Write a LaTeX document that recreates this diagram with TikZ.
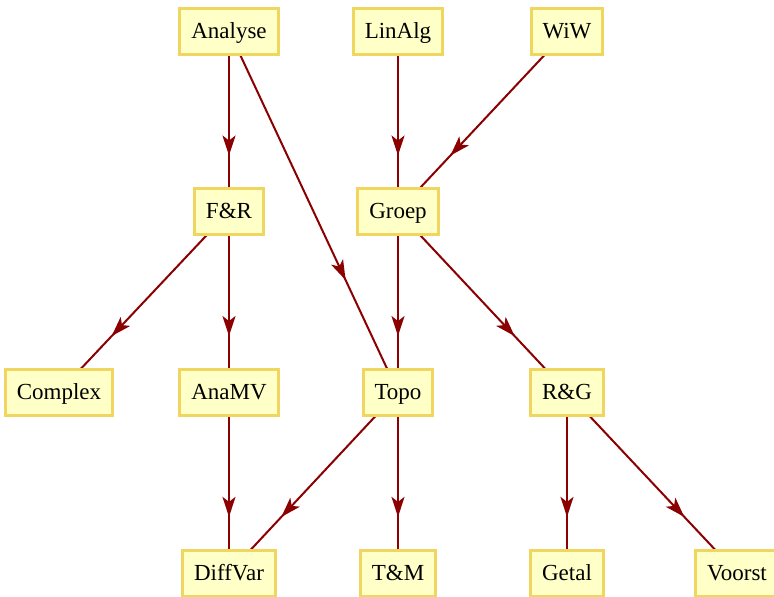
\documentclass[tikz,border=0pt]{standalone}
\usepackage{fontspec}
\setmainfont{Liberation Serif}
\usetikzlibrary{arrows.meta,decorations.markings,backgrounds}
\definecolor{edgecol}{HTML}{8B0000}
\definecolor{boxfill}{HTML}{FFFFC8}
\definecolor{boxdraw}{HTML}{F0D660}
\begin{document}
\begin{tikzpicture}[x=1pt,y=-1pt,
  vbox/.style={draw=boxdraw, fill=boxfill, line width=3pt, minimum height=46pt, inner xsep=11.5pt, text height=17pt, text depth=3pt, font=\fontsize{23}{27}\selectfont, text=black},
  edge/.style={color=edgecol, line width=2pt, postaction={decorate},
    decoration={markings, mark=at position 0.69 with {\arrow{Stealth[length=20pt,width=13pt,inset=5pt]}}}}]
\useasboundingbox (0,0) rectangle (774,597);
\node[vbox] (analyse) at (229,31) {Analyse};
\node[vbox] (linalg) at (398,31) {LinAlg};
\node[vbox] (wiw) at (567,31) {WiW};
\node[vbox] (fr) at (229,211.5) {F\&R};
\node[vbox] (groep) at (398,211.5) {Groep};
\node[vbox] (complex) at (59,392) {Complex};
\node[vbox] (anamv) at (229,392) {AnaMV};
\node[vbox] (topo) at (398,392) {Topo};
\node[vbox] (rg) at (567,392) {R\&G};
\node[vbox] (diffvar) at (229,573) {DiffVar};
\node[vbox] (tm) at (398,573) {T\&M};
\node[vbox] (getal) at (567,573) {Getal};
\node[vbox] (voorst) at (737,573) {Voorst};
\begin{scope}[on background layer]
\draw[edge] (analyse.center) -- (fr.center);
\draw[edge] (analyse.center) -- (topo.center);
\draw[edge] (linalg.center) -- (groep.center);
\draw[edge] (wiw.center) -- (groep.center);
\draw[edge] (fr.center) -- (complex.center);
\draw[edge] (fr.center) -- (anamv.center);
\draw[edge] (groep.center) -- (topo.center);
\draw[edge] (groep.center) -- (rg.center);
\draw[edge] (anamv.center) -- (diffvar.center);
\draw[edge] (topo.center) -- (diffvar.center);
\draw[edge] (topo.center) -- (tm.center);
\draw[edge] (rg.center) -- (getal.center);
\draw[edge] (rg.center) -- (voorst.center);
\end{scope}
\end{tikzpicture}
\end{document}
